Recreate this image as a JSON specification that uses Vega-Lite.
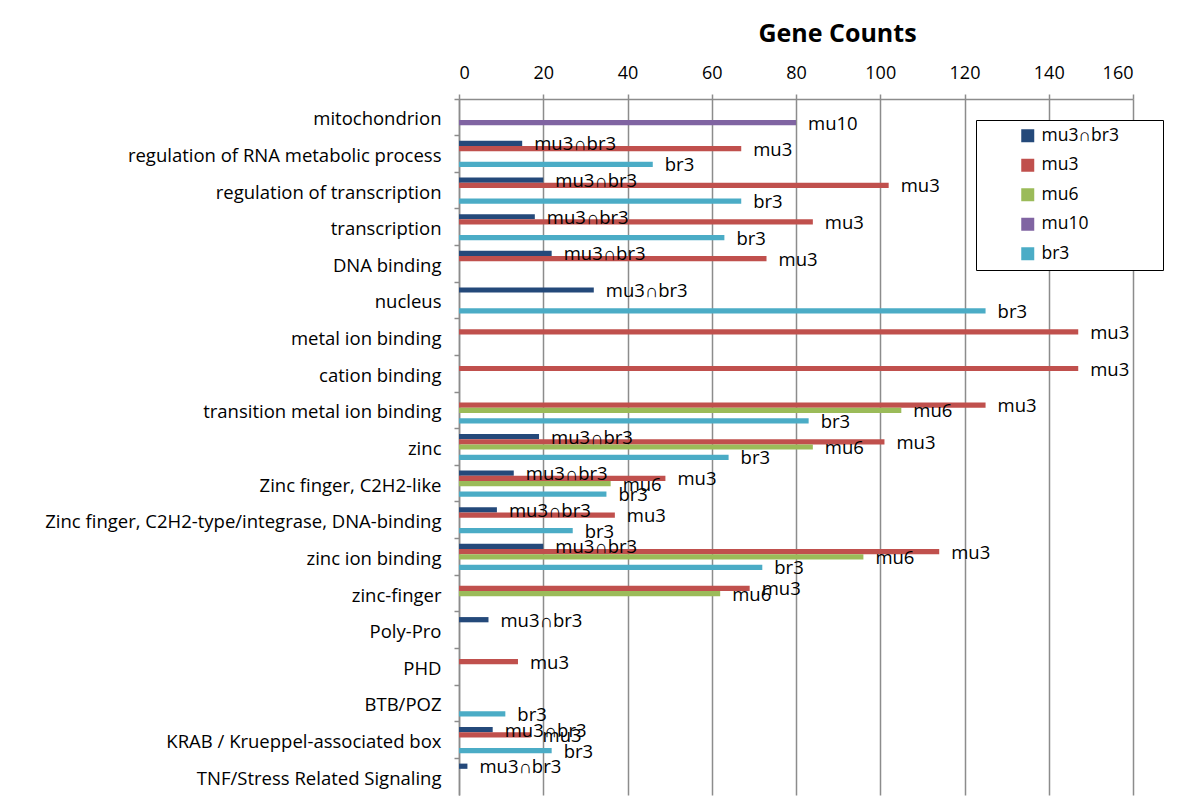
{
  "$schema": "https://vega.github.io/schema/vega-lite/v6.json",
  "autosize": {"type": "none"},
  "width": 674,
  "height": 696,
  "padding": {"left": 459, "top": 99, "right": 67, "bottom": 17},
  "background": "white",
  "config": {
    "font": "Open Sans",
    "view": {"stroke": null}
  },
  "data": {
    "values": [
      {"term": "mitochondrion", "set": "mu10", "count": 80},
      {"term": "regulation of RNA metabolic process", "set": "mu3∩br3", "count": 15},
      {"term": "regulation of RNA metabolic process", "set": "mu3", "count": 67},
      {"term": "regulation of RNA metabolic process", "set": "br3", "count": 46},
      {"term": "regulation of transcription", "set": "mu3∩br3", "count": 20},
      {"term": "regulation of transcription", "set": "mu3", "count": 102},
      {"term": "regulation of transcription", "set": "br3", "count": 67},
      {"term": "transcription", "set": "mu3∩br3", "count": 18},
      {"term": "transcription", "set": "mu3", "count": 84},
      {"term": "transcription", "set": "br3", "count": 63},
      {"term": "DNA binding", "set": "mu3∩br3", "count": 22},
      {"term": "DNA binding", "set": "mu3", "count": 73},
      {"term": "nucleus", "set": "mu3∩br3", "count": 32},
      {"term": "nucleus", "set": "br3", "count": 125},
      {"term": "metal ion binding", "set": "mu3", "count": 147},
      {"term": "cation binding", "set": "mu3", "count": 147},
      {"term": "transition metal ion binding", "set": "mu3", "count": 125},
      {"term": "transition metal ion binding", "set": "mu6", "count": 105},
      {"term": "transition metal ion binding", "set": "br3", "count": 83},
      {"term": "zinc", "set": "mu3∩br3", "count": 19},
      {"term": "zinc", "set": "mu3", "count": 101},
      {"term": "zinc", "set": "mu6", "count": 84},
      {"term": "zinc", "set": "br3", "count": 64},
      {"term": "Zinc finger, C2H2-like", "set": "mu3∩br3", "count": 13},
      {"term": "Zinc finger, C2H2-like", "set": "mu3", "count": 49},
      {"term": "Zinc finger, C2H2-like", "set": "mu6", "count": 36},
      {"term": "Zinc finger, C2H2-like", "set": "br3", "count": 35},
      {"term": "Zinc finger, C2H2-type/integrase, DNA-binding", "set": "mu3∩br3", "count": 9},
      {"term": "Zinc finger, C2H2-type/integrase, DNA-binding", "set": "mu3", "count": 37},
      {"term": "Zinc finger, C2H2-type/integrase, DNA-binding", "set": "br3", "count": 27},
      {"term": "zinc ion binding", "set": "mu3∩br3", "count": 20},
      {"term": "zinc ion binding", "set": "mu3", "count": 114},
      {"term": "zinc ion binding", "set": "mu6", "count": 96},
      {"term": "zinc ion binding", "set": "br3", "count": 72},
      {"term": "zinc-finger", "set": "mu3", "count": 69},
      {"term": "zinc-finger", "set": "mu6", "count": 62},
      {"term": "Poly-Pro", "set": "mu3∩br3", "count": 7},
      {"term": "PHD", "set": "mu3", "count": 14},
      {"term": "BTB/POZ", "set": "br3", "count": 11},
      {"term": "KRAB / Krueppel-associated  box", "set": "mu3∩br3", "count": 8},
      {"term": "KRAB / Krueppel-associated  box", "set": "mu3", "count": 17},
      {"term": "KRAB / Krueppel-associated  box", "set": "br3", "count": 22},
      {"term": "TNF/Stress Related Signaling", "set": "mu3∩br3", "count": 2}
    ]
  },
  "encoding": {
    "y": {
      "field": "term",
      "type": "nominal",
      "sort": null,
      "scale": {
        "domain": ["mitochondrion", "regulation of RNA metabolic process", "regulation of transcription", "transcription", "DNA binding", "nucleus", "metal ion binding", "cation binding", "transition metal ion binding", "zinc", "Zinc finger, C2H2-like", "Zinc finger, C2H2-type/integrase, DNA-binding", "zinc ion binding", "zinc-finger", "Poly-Pro", "PHD", "BTB/POZ", "KRAB / Krueppel-associated  box", "TNF/Stress Related Signaling"],
        "paddingInner": 0,
        "paddingOuter": 0
      },
      "axis": {
        "title": null,
        "bandPosition": 0,
        "domainColor": "#8c8c8c",
        "domainWidth": 1.5,
        "tickColor": "#8c8c8c",
        "tickWidth": 1.5,
        "tickSize": 5,
        "labelPadding": 13,
        "labelFontSize": 18.5,
        "labelColor": "#000000",
        "labelLimit": 450,
        "labelOffset": 2,
        "labelFont": "Open Sans"
      }
    },
    "x": {
      "field": "count",
      "type": "quantitative",
      "scale": {"domain": [0, 160], "nice": false},
      "axis": {
        "orient": "top",
        "title": "Gene Counts",
        "titleFontSize": 25,
        "titleFontWeight": "bold",
        "titleColor": "#000000",
        "titleX": 378,
        "titleY": -66,
        "titleBaseline": "middle",
        "values": [0, 20, 40, 60, 80, 100, 120, 140, 160],
        "grid": true,
        "gridColor": "#8c8c8c",
        "gridWidth": 1.5,
        "domainColor": "#8c8c8c",
        "domainWidth": 1.5,
        "tickColor": "#8c8c8c",
        "tickWidth": 1.5,
        "tickSize": 5,
        "labelPadding": 12,
        "labelFontSize": 18,
        "labelColor": "#000000"
      }
    },
    "yOffset": {
      "field": "set",
      "type": "nominal",
      "scale": {"domain": ["mu3∩br3", "mu3", "mu6", "mu10", "br3"], "paddingInner": 0, "paddingOuter": 1.29}
    }
  },
  "layer": [
    {
      "mark": {"type": "bar"},
      "encoding": {
        "color": {
          "field": "set",
          "type": "nominal",
          "scale": {
            "domain": ["mu3∩br3", "mu3", "mu6", "mu10", "br3"],
            "range": ["#24497a", "#c0504d", "#9bbb59", "#8064a2", "#4bacc6"]
          },
          "legend": {
            "title": "\u00a0",
            "titleOrient": "right",
            "titlePadding": 37,
            "titleFontSize": 1,
            "orient": "none",
            "legendX": 517,
            "legendY": 21,
            "padding": 7,
            "strokeColor": "#000000",
            "fillColor": "#ffffff",
            "cornerRadius": 0,
            "symbolType": "square",
            "symbolSize": 169,
            "symbolStrokeWidth": 0,
            "symbolOffset": 36,
            "labelOffset": 5,
            "labelFontSize": 17.5,
            "labelColor": "#000000",
            "rowPadding": 10.5
          }
        }
      }
    },
    {
      "mark": {"type": "text", "align": "left", "baseline": "middle", "dx": 12, "dy": 1, "fontSize": 18.5, "color": "#000000"},
      "encoding": {
        "text": {"field": "set"}
      }
    }
  ]
}
